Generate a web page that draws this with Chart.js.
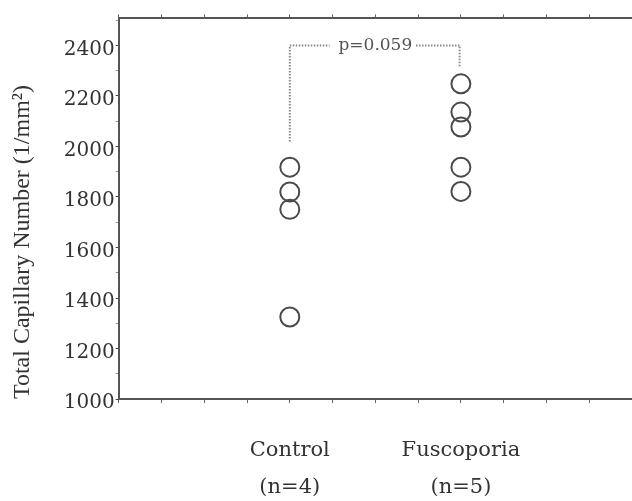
<!DOCTYPE html>
<html>
<head>
<meta charset="utf-8">
<script src="https://cdn.jsdelivr.net/npm/chart.js@4"></script>
<style>
    html, body { margin: 0; padding: 0; background: #fff; overflow: hidden; }
    #wrap { width: 632px; height: 501px; position: relative; }
    canvas { display: block; }
</style>
</head>
<body>
<div id="wrap"><canvas id="myChart"></canvas></div>
<script>
// group positions on the x scale (0..12) and their labels
const groupX = [4, 8];
const groupLabels = [['Control', '(n=4)'], ['Fuscoporia', '(n=5)']];

// total capillary number values
const controlValues = [1918, 1820, 1751, 1325];
const fuscoporiaValues = [2248, 2136, 2077, 1918, 1822];

// y axis: ticks every 100, labels every 200
const yMin = 1000;
const yMax = 2507;
const yTicks = [1000, 1100, 1200, 1300, 1400, 1500, 1600, 1700, 1800, 1900, 2000, 2100, 2200, 2300, 2400, 2500];
const yLabelStep = 200;

// significance bracket
const bracketLeft = [[4, 2020], [4, 2400], [4.93, 2400]];
const bracketRight = [[6.95, 2400], [7.97, 2400], [7.97, 2317]];
const pText = 'p=0.059';
const pTextPos = [6.0, 2400];

function toPoints(x, values) {
    return values.map(function(v) { return { x: x, y: v }; });
}

function pairPoints(pairs) {
    return pairs.map(function(p) { return { x: p[0], y: p[1] }; });
}

const pLabelPlugin = {
    id: 'pLabel',
    afterDatasetsDraw(chart) {
        let ctx = chart.ctx;
        let x = chart.scales.x.getPixelForValue(pTextPos[0]);
        let y = chart.scales.y.getPixelForValue(pTextPos[1]);
        ctx.save();
        ctx.font = '17px "DejaVu Serif"';
        ctx.fillStyle = '#555';
        ctx.textAlign = 'center';
        ctx.textBaseline = 'middle';
        ctx.fillText(pText, x, y);
        ctx.restore();
    }
};

const circleStyle = {
    type: 'scatter',
    pointStyle: 'circle',
    pointRadius: 9.5,
    pointBorderWidth: 2,
    borderColor: '#4a4a4a',
    backgroundColor: 'rgba(255,255,255,0)',
    showLine: false
};

const bracketStyle = {
    type: 'line',
    borderColor: '#888',
    borderWidth: 2,
    borderDash: [1.5, 1.5],
    pointRadius: 0,
    fill: false,
    tension: 0
};

// no extra room on the right, the plot runs off the page edge
function noRightPad(scale) {
    scale.paddingRight = 0;
}

let ctx = document.getElementById('myChart').getContext('2d');
new Chart(ctx, {
    data: {
        datasets: [
            Object.assign({ label: 'Control', data: toPoints(groupX[0], controlValues) }, circleStyle),
            Object.assign({ label: 'Fuscoporia', data: toPoints(groupX[1], fuscoporiaValues) }, circleStyle),
            Object.assign({ label: 'b1', data: pairPoints(bracketLeft) }, bracketStyle),
            Object.assign({ label: 'b2', data: pairPoints(bracketRight) }, bracketStyle)
        ]
    },
    options: {
        responsive: true,
        maintainAspectRatio: false,
        animation: false,
        layout: { autoPadding: false, padding: { left: 8, right: 0, top: 0, bottom: -34 } },
        plugins: {
            legend: { display: false },
            tooltip: { enabled: false }
        },
        scales: {
            x: {
                type: 'linear',
                position: 'bottom',
                min: 0,
                max: 12,
                afterFit: noRightPad,
                border: { display: true, color: '#555', width: 2 },
                grid: { drawOnChartArea: false, drawTicks: true, tickLength: 4, color: '#666' },
                ticks: {
                    stepSize: 1,
                    autoSkip: false,
                    maxRotation: 0,
                    padding: 29,
                    color: '#333',
                    font: { family: '"DejaVu Serif"', size: 21, lineHeight: 1.76 },
                    callback: function(value) {
                        let i = groupX.indexOf(value);
                        return i >= 0 ? groupLabels[i] : '';
                    }
                }
            },
            xTop: {
                type: 'linear',
                axis: 'x',
                position: 'top',
                min: 0,
                max: 12,
                afterFit: noRightPad,
                border: { display: true, color: '#555', width: 2 },
                grid: { drawOnChartArea: false, drawTicks: true, tickLength: 4, color: '#666' },
                ticks: { stepSize: 1, display: true, padding: 0, callback: function() { return ''; } }
            },
            y: {
                type: 'linear',
                min: yMin,
                max: yMax,
                afterBuildTicks: function(scale) {
                    scale.ticks = yTicks.map(function(v) { return { value: v }; });
                },
                border: { display: true, color: '#555', width: 2 },
                grid: {
                    drawOnChartArea: false,
                    drawTicks: true,
                    tickLength: 3,
                    color: function(c) {
                        return c.tick && c.tick.value % yLabelStep === 0 ? '#444' : '#999';
                    }
                },
                ticks: {
                    autoSkip: false,
                    padding: 1,
                    labelOffset: 4,
                    color: '#333',
                    font: { family: '"DejaVu Serif"', size: 20 },
                    callback: function(value) {
                        return value % yLabelStep === 0 ? String(value) : '';
                    }
                },
                title: {
                    display: true,
                    text: 'Total Capillary Number (1/mm²)',
                    align: 'start',
                    color: '#333',
                    padding: { top: 0, bottom: 26 },
                    font: { family: '"Liberation Serif"', size: 24 }
                }
            }
        }
    },
    plugins: [pLabelPlugin]
});
</script>
</body>
</html>
